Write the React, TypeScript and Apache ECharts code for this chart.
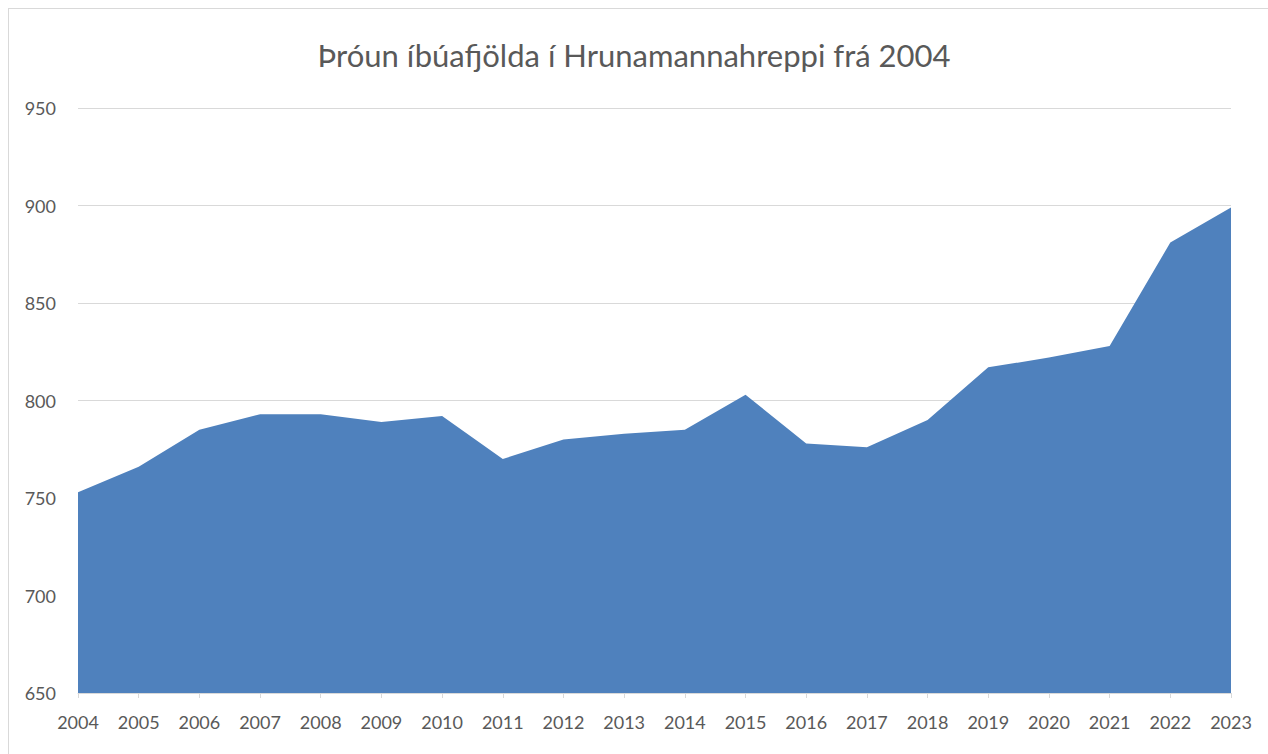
import React, { useEffect, useRef } from "react";
import * as echarts from "echarts";

const TITLE = "Þróun íbúafjölda í Hrunamannahreppi frá 2004";
const years = ["2004","2005","2006","2007","2008","2009","2010","2011","2012","2013","2014","2015","2016","2017","2018","2019","2020","2021","2022","2023"];
const population = [753, 766, 785, 793, 793, 789, 792, 770, 780, 783, 785, 803, 778, 776, 790, 817, 822, 828, 881, 899];
const yMin = 650;
const yMax = 950;
const yStep = 50;

export default function App() {
  const ref = useRef<HTMLDivElement>(null);
  useEffect(() => {
    document.body.style.margin = "0";
    if (!ref.current) return;
    const chart = echarts.init(ref.current, null, { renderer: "svg" });
    const font = "Lato, 'Open Sans', sans-serif";
    chart.setOption({
      animation: false,
      backgroundColor: "#ffffff",
      title: {
        text: TITLE,
        left: "center",
        top: 34,
        textStyle: { fontFamily: font, fontSize: 31, fontWeight: "normal", color: "#595959" },
      },
      graphic: [
        { type: "line", shape: { x1: 8, y1: 8.5, x2: 1268, y2: 8.5 }, style: { stroke: "#d9d9d9", lineWidth: 1 } },
        { type: "line", shape: { x1: 8.5, y1: 8, x2: 8.5, y2: 754 }, style: { stroke: "#d9d9d9", lineWidth: 1 } },
      ],
      grid: { left: 78, right: 37, top: 108, bottom: 61 },
      xAxis: {
        type: "category",
        data: years,
        boundaryGap: false,
        axisLine: { lineStyle: { color: "#d9d9d9" } },
        axisTick: { show: true, length: 5, lineStyle: { color: "#d9d9d9" } },
        axisLabel: { fontFamily: font, fontSize: 18, color: "#595959", margin: 20 },
      },
      yAxis: {
        type: "value",
        min: yMin,
        max: yMax,
        interval: yStep,
        axisLine: { show: false },
        axisTick: { show: false },
        splitLine: { lineStyle: { color: "#d9d9d9", width: 1 } },
        axisLabel: { fontFamily: font, fontSize: 18, color: "#595959", margin: 22 },
      },
      series: [
        {
          type: "line",
          data: population,
          symbol: "none",
          lineStyle: { width: 0, color: "#4f81bd" },
          itemStyle: { color: "#4f81bd" },
          areaStyle: { color: "#4f81bd", opacity: 1, origin: "start" },
        },
      ],
    });
    return () => chart.dispose();
  }, []);
  return <div ref={ref} style={{ width: 1268, height: 754 }} />;
}
